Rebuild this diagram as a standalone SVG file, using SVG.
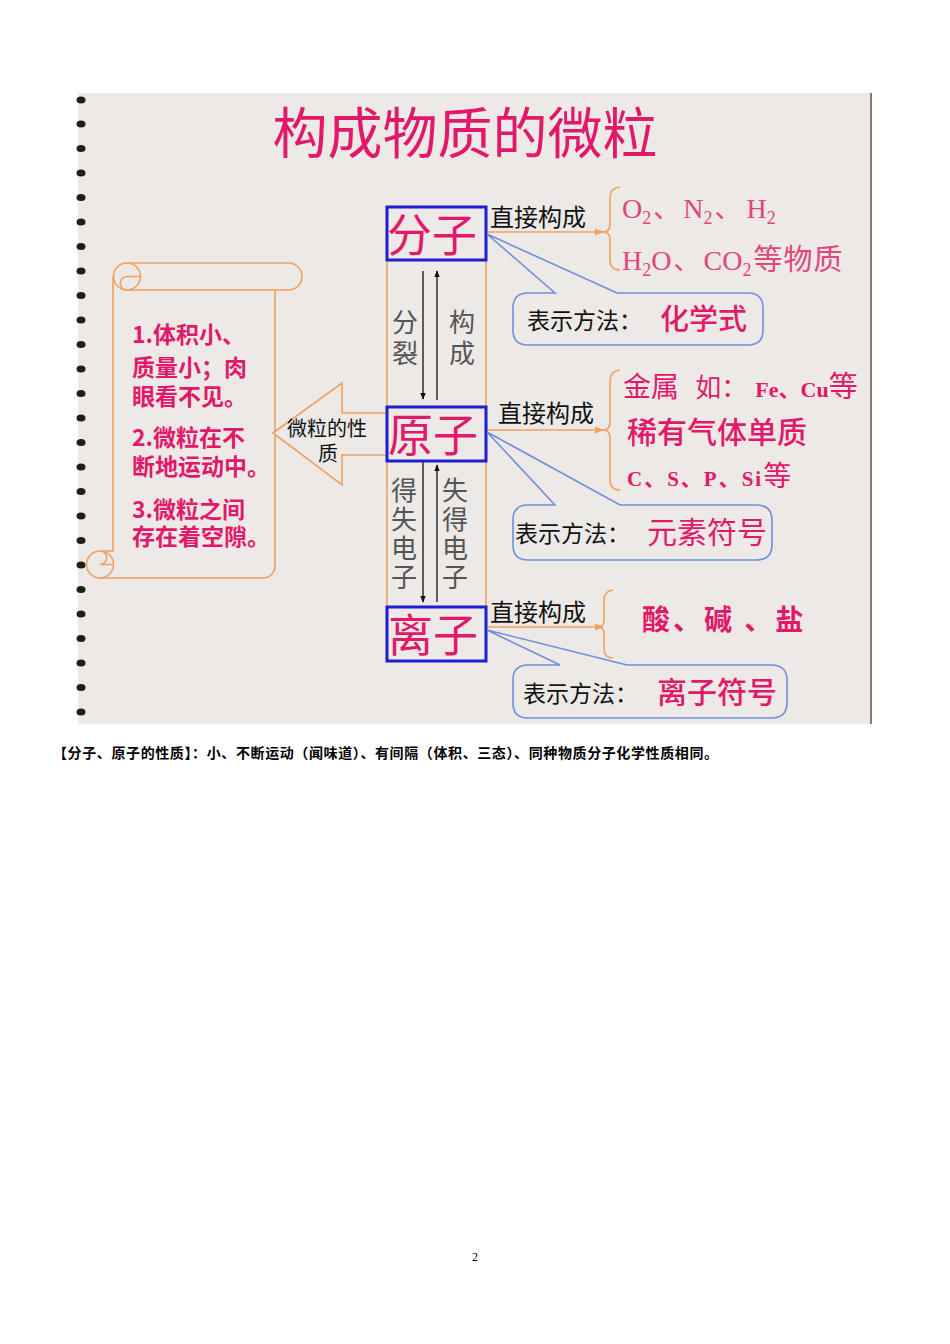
<svg xmlns="http://www.w3.org/2000/svg" width="950" height="1344" viewBox="0 0 950 1344">
<defs>
<style>
.cjk{font-family:"Noto Sans CJK SC","Liberation Sans",sans-serif}
.ser{font-family:"Liberation Serif","Noto Sans CJK SC",serif}
.pink{fill:#E2186A}
.lpink{fill:#E0457C}
.blk{fill:#111}
.gray{fill:#555}
.box{fill:#ECE9E6;stroke:#1E1ECC;stroke-width:3}
.org{fill:none;stroke:#F0A060;stroke-width:1.6}
.bub{fill:#ECE9E6;stroke:#6F8EDB;stroke-width:1.6}
.ln{stroke:#111;stroke-width:1.3}
.dot{fill:#1e1e1a}
</style>
<marker id="ah" viewBox="0 0 10 10" refX="9" refY="5" markerWidth="7" markerHeight="7" orient="auto" markerUnits="userSpaceOnUse"><path d="M0,1 L10,5 L0,9 z" fill="#111"/></marker>
<marker id="oh" viewBox="0 0 10 10" refX="9" refY="5" markerWidth="9" markerHeight="9" orient="auto" markerUnits="userSpaceOnUse"><path d="M0,1 L10,5 L0,9 z" fill="#F0A060"/></marker>
</defs>
<rect width="950" height="1344" fill="#fff"/>
<g id="panel">
<rect x="78" y="93" width="793" height="631" fill="#ECE9E6"/>
<line x1="871" y1="93" x2="871" y2="724" stroke="#8a7a70" stroke-width="2"/>
<g id="dots">
<ellipse class="dot" cx="81" cy="100" rx="4.5" ry="3.6"/><ellipse class="dot" cx="81" cy="124" rx="4.5" ry="3.6"/><ellipse class="dot" cx="81" cy="148.5" rx="4.5" ry="3.6"/><ellipse class="dot" cx="81" cy="173" rx="4.5" ry="3.6"/><ellipse class="dot" cx="81" cy="197.5" rx="4.5" ry="3.6"/><ellipse class="dot" cx="81" cy="222" rx="4.5" ry="3.6"/><ellipse class="dot" cx="81" cy="246.5" rx="4.5" ry="3.6"/><ellipse class="dot" cx="81" cy="271" rx="4.5" ry="3.6"/><ellipse class="dot" cx="81" cy="295.5" rx="4.5" ry="3.6"/><ellipse class="dot" cx="81" cy="320" rx="4.5" ry="3.6"/><ellipse class="dot" cx="81" cy="344.5" rx="4.5" ry="3.6"/><ellipse class="dot" cx="81" cy="369" rx="4.5" ry="3.6"/><ellipse class="dot" cx="81" cy="393.5" rx="4.5" ry="3.6"/><ellipse class="dot" cx="81" cy="418" rx="4.5" ry="3.6"/><ellipse class="dot" cx="81" cy="442.5" rx="4.5" ry="3.6"/><ellipse class="dot" cx="81" cy="467" rx="4.5" ry="3.6"/><ellipse class="dot" cx="81" cy="491.5" rx="4.5" ry="3.6"/><ellipse class="dot" cx="81" cy="516" rx="4.5" ry="3.6"/><ellipse class="dot" cx="81" cy="540.5" rx="4.5" ry="3.6"/><ellipse class="dot" cx="81" cy="565" rx="4.5" ry="3.6"/><ellipse class="dot" cx="81" cy="589.5" rx="4.5" ry="3.6"/><ellipse class="dot" cx="81" cy="614" rx="4.5" ry="3.6"/><ellipse class="dot" cx="81" cy="638.5" rx="4.5" ry="3.6"/><ellipse class="dot" cx="81" cy="663" rx="4.5" ry="3.6"/><ellipse class="dot" cx="81" cy="687.5" rx="4.5" ry="3.6"/><ellipse class="dot" cx="81" cy="712" rx="4.5" ry="3.6"/>
</g>
</g>
<text id="title" class="cjk pink" x="465" y="153" font-size="55" text-anchor="middle">构成物质的微粒</text>
<g id="scroll">
<path class="org" d="M127 263 H288.5 A13.5 13.5 0 0 1 288.5 290 H127"/>
<circle class="org" cx="127" cy="276.5" r="13.5"/>
<path class="org" d="M127 290 A6.75 6.75 0 0 1 127 276.5 H140"/>
<path class="org" d="M113 277 V551"/>
<path class="org" d="M275 290 V566 A12 12 0 0 1 263 578 H100"/>
<circle class="org" cx="100" cy="564.5" r="13.5"/>
<path class="org" d="M100 551 H113 M100 551 A6.75 6.75 0 0 1 100 564.5 H113"/>
<g class="cjk pink" font-size="23" font-weight="bold">
<text x="132" y="343">1.体积小、</text>
<text x="132" y="376">质量小；肉</text>
<text x="132" y="405">眼看不见。</text>
<text x="132" y="446">2.微粒在不</text>
<text x="132" y="475">断地运动中。</text>
<text x="132" y="518">3.微粒之间</text>
<text x="132" y="545">存在着空隙。</text>
</g>
</g>
<g id="prop-arrow">
<polygon class="org" points="273,433 342,383 342,413 387,413 387,455 342,455 342,485" style="fill:#ECE9E6"/>
<text class="cjk blk" x="327" y="436" font-size="20" text-anchor="middle">微粒的性</text>
<text class="cjk blk" x="328" y="461" font-size="20" text-anchor="middle">质</text>
</g>
<g id="column">
<line class="org" x1="387" y1="260" x2="387" y2="607"/>
<line class="org" x1="486" y1="260" x2="486" y2="607"/>
</g>
<g id="connectors">
<line class="ln" x1="423" y1="271" x2="423" y2="399" marker-end="url(#ah)"/>
<line class="ln" x1="437" y1="400" x2="437" y2="271" marker-end="url(#ah)"/>
<line class="ln" x1="423" y1="462" x2="423" y2="602" marker-end="url(#ah)"/>
<line class="ln" x1="437" y1="602" x2="437" y2="465" marker-end="url(#ah)"/>
<line class="org" x1="487" y1="232" x2="603" y2="232" marker-end="url(#oh)"/>
<line class="org" x1="487" y1="430" x2="603" y2="430" marker-end="url(#oh)"/>
<line class="org" x1="487" y1="627" x2="603" y2="627" marker-end="url(#oh)"/>
<path class="org" d="M620 187 Q610 188 610 198 V224 Q610 232 603 232 Q610 232 610 240 V260 Q610 270 620 270"/>
<path class="org" d="M620 370 Q610 371 610 381 V422 Q610 430 603 430 Q610 430 610 438 V480 Q610 490 620 490"/>
<path class="org" d="M613 590 Q604 591 604 600 V620 Q604 627 598 627 Q604 627 604 634 V649 Q604 658 613 658"/>
<g class="cjk gray" font-size="26" text-anchor="middle">
<text x="405" y="332">分</text><text x="405" y="363">裂</text>
<text x="462" y="332">构</text><text x="462" y="363">成</text>
<text x="404" y="500">得</text><text x="404" y="529">失</text><text x="404" y="558">电</text><text x="404" y="587">子</text>
<text x="455" y="500">失</text><text x="455" y="529">得</text><text x="455" y="558">电</text><text x="455" y="587">子</text>
</g>
<g class="cjk blk" font-size="24">
<text x="490" y="226">直接构成</text>
<text x="498" y="422">直接构成</text>
<text x="490" y="621">直接构成</text>
</g>
</g>
<g id="node-fenzi">
<rect class="box" x="387" y="207" width="99" height="53"/>
<text class="cjk pink" x="432" y="252" font-size="45" text-anchor="middle">分子</text>
</g>
<g id="node-yuanzi">
<rect class="box" x="387" y="407" width="99" height="54"/>
<text class="cjk pink" x="433" y="452" font-size="45" text-anchor="middle">原子</text>
</g>
<g id="node-lizi">
<rect class="box" x="387" y="607" width="99" height="54"/>
<text class="cjk pink" x="433" y="652" font-size="45" text-anchor="middle">离子</text>
</g>
<g id="mol-examples" class="lpink">
<text class="ser" x="622" y="218" font-size="28">O<tspan font-size="18" dy="6">2</tspan><tspan class="cjk" font-size="26" dy="-6" dx="2">、</tspan><tspan dx="4">N</tspan><tspan font-size="18" dy="6">2</tspan><tspan class="cjk" font-size="26" dy="-6" dx="2">、</tspan><tspan dx="6">H</tspan><tspan font-size="18" dy="6">2</tspan></text>
<text class="ser" x="622" y="270" font-size="28">H<tspan font-size="18" dy="6">2</tspan><tspan dy="-6">O</tspan><tspan class="cjk" font-size="26" dx="2">、</tspan><tspan dx="4">CO</tspan><tspan font-size="18" dy="6">2</tspan><tspan class="cjk" font-size="29" dy="-6" dx="2" letter-spacing="1">等物质</tspan></text>
</g>
<g id="atom-examples" class="pink">
<text class="cjk" x="623" y="397" font-size="28">金属 <tspan font-size="26" dx="10">如：</tspan><tspan class="ser" font-size="22" font-weight="bold" dx="8">Fe、Cu</tspan><tspan font-size="29">等</tspan></text>
<text class="cjk" x="627" y="443" font-size="30" font-weight="500">稀有气体单质</text>
<text class="ser" x="627" y="486" font-size="21" font-weight="bold" letter-spacing="2">C、S、P、Si<tspan class="cjk" font-size="28" font-weight="normal" letter-spacing="0">等</tspan></text>
</g>
<g id="ion-examples" class="pink">
<text class="cjk" x="642" y="630" font-size="28" font-weight="bold" letter-spacing="3">酸、碱 、盐</text>
</g>
<g id="callout-fenzi">
<path class="bub" d="M555 293 L487 234 L617 293 H748 Q763 293 763 308 V330 Q763 345 748 345 H528 Q513 345 513 330 V308 Q513 293 528 293 Z"/>
<text class="cjk blk" x="527" y="329" font-size="23">表示方法：</text>
<text class="cjk pink" x="660" y="330" font-size="29" font-weight="500">化学式</text>
</g>
<g id="callout-yuanzi">
<path class="bub" d="M555 505 L487 432 L620 505 H756 Q772 505 772 520 V545 Q772 560 756 560 H528 Q513 560 513 545 V520 Q513 505 528 505 Z"/>
<text class="cjk blk" x="515" y="542" font-size="23">表示方法：</text>
<text class="cjk pink" x="647" y="543" font-size="30">元素符号</text>
</g>
<g id="callout-lizi">
<path class="bub" d="M560 665 L487 630 L627 665 H771 Q787 665 787 680 V703 Q787 718 771 718 H528 Q513 718 513 703 V680 Q513 665 528 665 Z"/>
<text class="cjk blk" x="523" y="702" font-size="23">表示方法：</text>
<text class="cjk pink" x="657" y="703" font-size="30" font-weight="500">离子符号</text>
</g>
<text id="note" class="cjk" x="53" y="758" font-size="14" font-weight="bold" fill="#000" textLength="665" lengthAdjust="spacing">【分子、原子的性质】：小、不断运动（闻味道）、有间隔（体积、三态）、同种物质分子化学性质相同。</text>
<text id="page" class="ser" x="475" y="1261" font-size="12" text-anchor="middle" fill="#000">2</text>
</svg>
